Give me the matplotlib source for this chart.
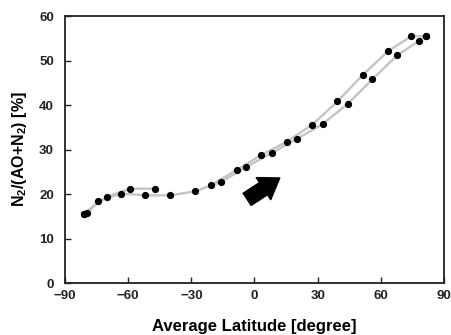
import matplotlib
matplotlib.use('Agg')
import matplotlib.pyplot as plt

plt.rcParams['font.family'] = 'Liberation Sans'
plt.rcParams['font.weight'] = 'bold'
plt.rcParams['mathtext.fontset'] = 'custom'
plt.rcParams['mathtext.rm'] = 'Liberation Sans:bold'
plt.rcParams['mathtext.bf'] = 'Liberation Sans:bold'
plt.rcParams['mathtext.default'] = 'bf'

# northward branch (lower-right one)
lat_north = [-81.2, -79.5, -74.3, -63.4, -52.0, -39.9, -28.3, -15.9, -3.8, 8.1,
             20.2, 32.3, 44.2, 56.0, 67.9, 78.1, 81.4]
val_north = [15.6, 15.7, 18.4, 20.1, 19.7, 19.7, 20.6, 22.7, 26.1, 29.2,
             32.4, 35.7, 40.2, 45.8, 51.2, 54.4, 55.5]
# southward branch (upper-left one)
lat_south = [81.4, 74.3, 63.4, 51.3, 39.4, 27.5, 15.2, 3.3, -8.5, -20.7]
val_south = [55.5, 55.4, 52.1, 46.7, 40.8, 35.6, 31.7, 28.8, 25.4, 22.0]
# short southern piece
lat_sh = [-47.2, -58.9, -70.0, -81.2]
val_sh = [21.2, 21.2, 19.4, 15.6]

# direction arrow (tail, head)
arrow_tail = (-3.5, 18.8)
arrow_head = (12.0, 23.6)

fig = plt.figure(figsize=(4.52, 3.35), dpi=100)
ax = fig.add_axes([0.1438, 0.1552, 0.8385, 0.797])

for lx, ly in [(lat_north, val_north), (lat_south, val_south), (lat_sh, val_sh)]:
    ax.plot(lx, ly, color='#c4c4c4', lw=1.7, zorder=2)
    ax.plot(lx, ly, 'o', color='black', ms=4.2, zorder=3)

ax.annotate('', xy=arrow_head, xytext=arrow_tail,
            arrowprops=dict(arrowstyle='simple,tail_width=1.05,head_width=1.9,head_length=1.4',
                            color='black', mutation_scale=10, shrinkA=0, shrinkB=0))

ax.set_xlim(-90, 90)
ax.set_ylim(0, 60)
ax.set_xticks(range(-90, 91, 30))
ax.set_yticks(range(0, 61, 10))
ax.tick_params(direction='in', length=4, width=1, labelsize=9.5, colors='#222222')
ax.tick_params(axis='x', pad=5)
ax.tick_params(axis='y', pad=8)
for s in ax.spines.values():
    s.set_linewidth(1.3)
    s.set_color('#222222')

ax.set_xlabel('Average Latitude [degree]', fontsize=12, fontweight='bold', labelpad=12)
ax.set_ylabel(r'N$_2$/(AO+N$_2$) [%]', fontsize=11.5, fontweight='bold', labelpad=7)

fig.savefig('out.png', dpi=100)
